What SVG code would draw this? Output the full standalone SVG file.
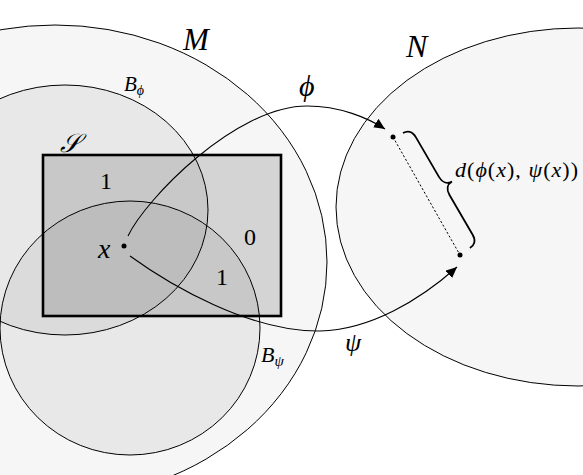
<svg xmlns="http://www.w3.org/2000/svg" width="583" height="475" viewBox="0 0 583 475">
<style>
.set{stroke:#000;stroke-width:1}
.lbl{font-family:"Liberation Serif","DejaVu Serif",serif;fill:#000}
.it{font-style:italic}
.conn{fill:none;stroke:#000;stroke-width:1.1}
</style>
<defs>
<marker id="ah" markerUnits="userSpaceOnUse" markerWidth="12" markerHeight="10" refX="11" refY="5" orient="auto">
<path d="M0,0 L11,5 L0,10 Z" fill="#000"/>
</marker>
</defs>
<rect width="583" height="475" fill="#fff"/>
<g id="M">
<ellipse cx="55" cy="262" rx="272" ry="237" fill="#000" fill-opacity="0.035" class="set"/>
<text class="lbl it" x="183" y="50" font-size="31">M</text>
</g>
<g id="N">
<ellipse cx="578" cy="207" rx="242" ry="179" fill="#000" fill-opacity="0.035" class="set"/>
<text class="lbl it" x="406" y="57" font-size="32">N</text>
</g>
<g id="S">
<rect x="43" y="155" width="238" height="161" fill="#000" fill-opacity="0.138" stroke="#000" stroke-width="2.6"/>
<text class="lbl it" x="60" y="152" font-size="26">𝒮</text>
<text class="lbl" x="100" y="189" font-size="24">1</text>
<text class="lbl" x="244" y="245" font-size="24">0</text>
<text class="lbl" x="216" y="285" font-size="24">1</text>
</g>
<g id="Bphi">
<ellipse cx="65" cy="210" rx="143" ry="125" fill="#000" fill-opacity="0.053" class="set"/>
<text class="lbl it" x="124" y="91" font-size="21">B<tspan font-size="14" dy="4">ϕ</tspan></text>
</g>
<g id="Bpsi">
<ellipse cx="130" cy="328" rx="130" ry="127" fill="#000" fill-opacity="0.053" class="set"/>
<text class="lbl it" x="261" y="362" font-size="22">B<tspan font-size="15" dy="4">ψ</tspan></text>
</g>
<g id="connectors">
<path class="conn" d="M128,236 C145,200 235,106 307,106 C340,106 368,118 385,129" marker-end="url(#ah)"/>
<path class="conn" d="M130,256 C170,285 250,332 320,331 C370,330 420,300 457,267" marker-end="url(#ah)"/>
<line x1="393" y1="137" x2="460" y2="255" stroke="#000" stroke-width="1" stroke-dasharray="2.2 2"/>
<path d="M0,0 C0,-5 3,-9 10,-9 L56,-9 C62,-9 66.5,-12 66.5,-18 C66.5,-12 71,-9 77,-9 L123,-9 C130,-9 133,-5 133,0" transform="translate(403,133) rotate(59.8)" fill="none" stroke="#000" stroke-width="1.8"/>
</g>
<g id="x">
<circle cx="124" cy="246" r="2.5" fill="#000"/>
<text class="lbl it" x="98" y="258" font-size="28">x</text>
</g>
<g id="phix"><circle cx="393" cy="137" r="2.5" fill="#000"/></g>
<g id="psix"><circle cx="460" cy="255" r="2.5" fill="#000"/></g>
<g id="labels">
<text class="lbl it" x="299" y="96" font-size="30">ϕ</text>
<text class="lbl it" x="345" y="351" font-size="26">ψ</text>
<text class="lbl" x="455" y="177" font-size="22" textLength="123" lengthAdjust="spacing"><tspan class="it">d</tspan>(<tspan class="it">ϕ</tspan>(<tspan class="it">x</tspan>), <tspan class="it">ψ</tspan>(<tspan class="it">x</tspan>))</text>
</g>
</svg>
